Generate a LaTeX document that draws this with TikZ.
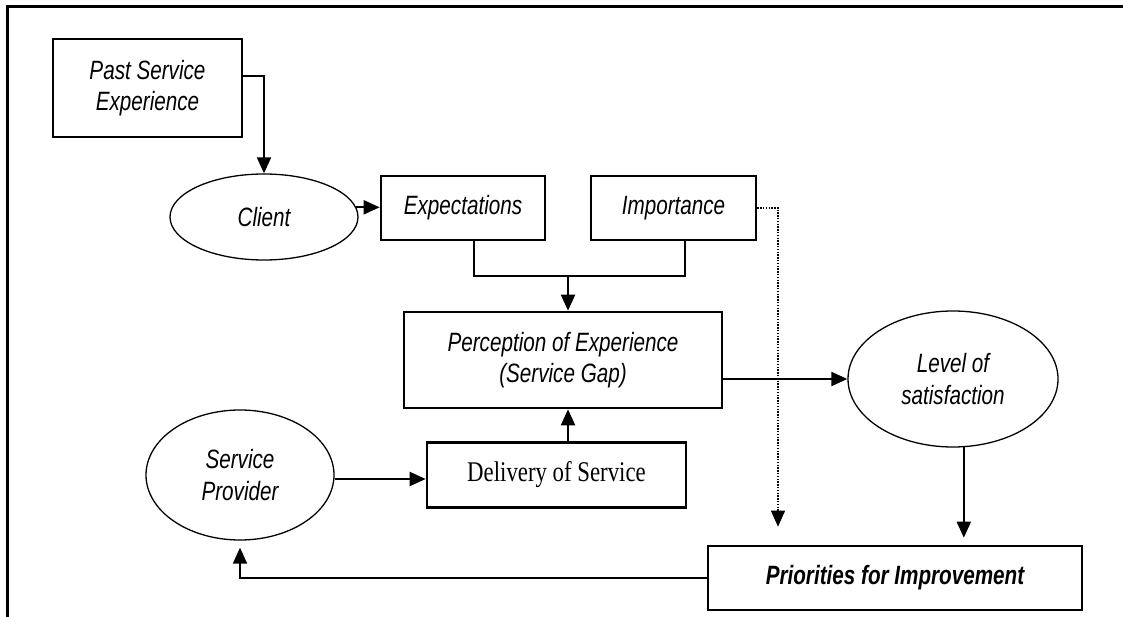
\documentclass[tikz,border=0pt]{standalone}
\usepackage{fontspec}
\usetikzlibrary{shapes.geometric,arrows.meta,calc}
\newfontfamily\labelfont[FakeStretch=0.78]{Liberation Sans}
\newfontfamily\plainserif[FakeStretch=0.8]{Liberation Serif}
\begin{document}
\begin{tikzpicture}[x=1pt,y=-1pt,
  boxnode/.style={draw, line width=2.6pt, inner sep=0pt, align=center,
    font=\labelfont\itshape\fontsize{26.5}{31.5}\selectfont},
  ovalnode/.style={draw, ellipse, line width=1.3pt, inner sep=0pt, align=center,
    font=\labelfont\itshape\fontsize{26.5}{31.5}\selectfont},
  conn/.style={line width=2pt},
  arr/.style={line width=2pt, -{Triangle[length=16pt,width=14pt]}},
  dotarr/.style={line width=1.3pt, dash pattern=on 1.4pt off 1.4pt,
    -{Triangle[length=16pt,width=14pt]}},
  frameline/.style={line width=3pt}]
\useasboundingbox (0,0) rectangle (1123,617);

% page frame: top and left rules
\coordinate (ftl) at (7,7);
\coordinate (ftr) at (1123,7);
\coordinate (fbl) at (7,617);
\draw[frameline] (ftr) -- (ftl) -- (fbl);

% boxes and ovals
\node[boxnode, minimum width=189pt, minimum height=98pt] (past) at (147.5,88) {Past Service\\Experience};
\node[ovalnode, minimum width=188pt, minimum height=86pt] (client) at (264,217) {Client};
\node[boxnode, minimum width=164pt, minimum height=64pt] (expect) at (463,208) {Expectations};
\node[boxnode, minimum width=165pt, minimum height=64pt] (import) at (673.5,208) {Importance};
\node[boxnode, minimum width=318pt, minimum height=96pt] (percep) at (563,360) {Perception of Experience\\(Service Gap)};
\node[boxnode, minimum width=259pt, minimum height=65pt,
      font=\plainserif\fontsize{28.5}{32}\selectfont] (deliv) at (556.5,475) {Delivery of Service};
\node[ovalnode, minimum width=188pt, minimum height=130pt] (sp) at (240,475) {Service\\Provider};
\node[ovalnode, minimum width=210pt, minimum height=136pt] (level) at (953,379) {Level of\\satisfaction};
\node[boxnode, minimum width=374pt, minimum height=64pt,
      font=\labelfont\bfseries\itshape\fontsize{26.5}{31.5}\selectfont] (prio) at (895,578) {Priorities for Improvement};

% junction below expectations and importance
\coordinate (j) at (568,276);
\coordinate (dc) at (778,208);

% connectors
\draw[arr] ([yshift=12pt]past.east) -| (client.north);
\draw[arr] (client.6) -- (client.6 -| expect.west);
\draw[conn] ([xshift=11pt]expect.south) |- (j);
\draw[conn] ([xshift=11pt]import.south) |- (j);
\draw[arr] (j) -- (j |- percep.north);
\draw[arr] (j |- deliv.north) -- (j |- percep.south);
\draw[arr] ([yshift=-4pt]sp.east) -- ([yshift=-4pt]sp.east -| deliv.west);
\draw[arr] (percep.east |- level.west) -- (level.west);
\draw[arr, shorten >=7pt] (level.-81) -- (level.-81 |- prio.north);
\draw[dotarr, shorten >=18pt] (import.east) -- (dc) -- (dc |- prio.north);
\draw[arr, shorten >=7pt] (prio.west) -| (sp.south);
\end{tikzpicture}
\end{document}
